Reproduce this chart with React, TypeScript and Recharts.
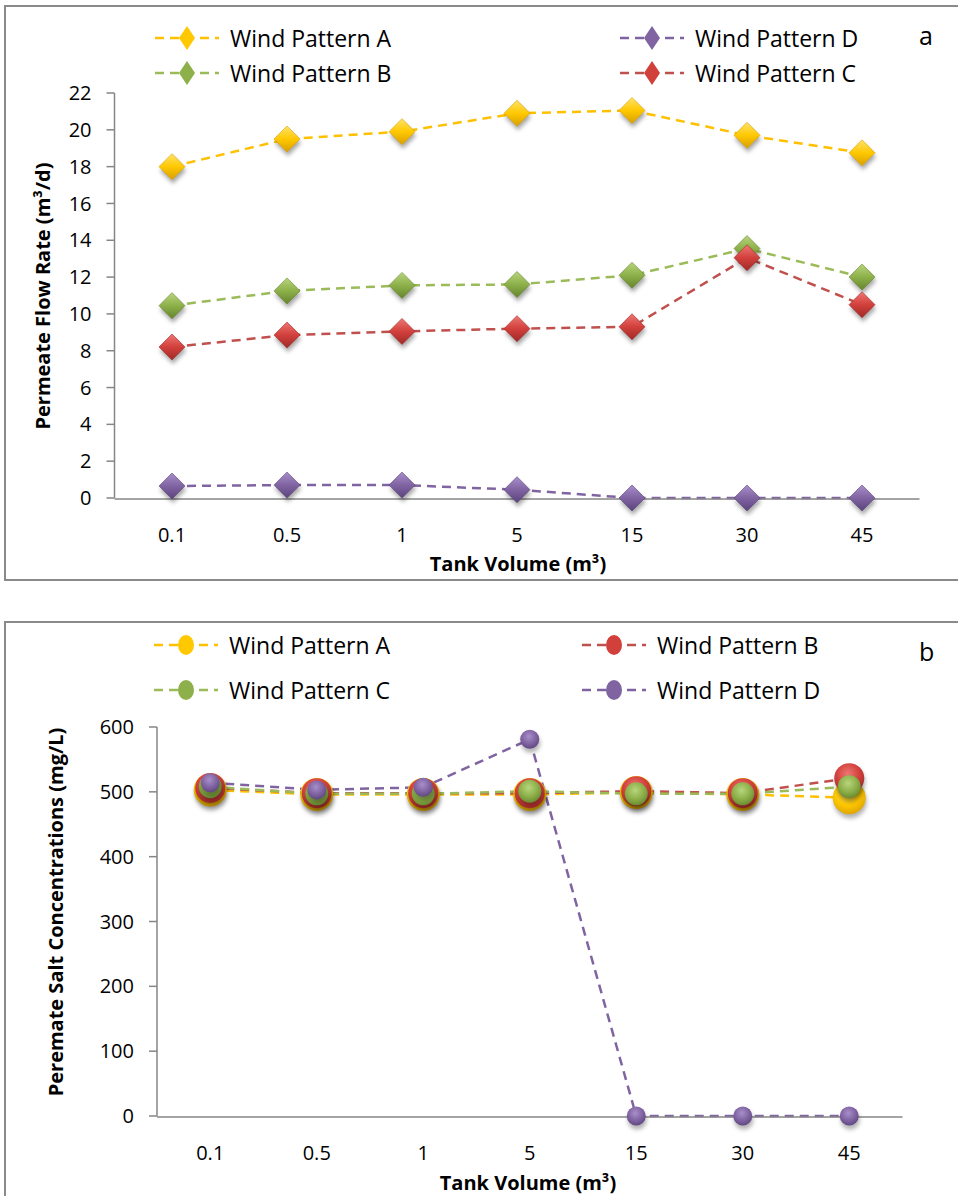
import React from "react";
import { LineChart, Line, XAxis, YAxis } from "recharts";

// tank volumes (m³) — shared category labels
const volumes = ["0.1", "0.5", "1", "5", "15", "30", "45"];

// (a) permeate flow rate, m³/d
const flowA = [18.0, 19.5, 19.9, 20.9, 21.05, 19.7, 18.75];
const flowB = [10.45, 11.25, 11.55, 11.6, 12.1, 13.55, 12.0];
const flowC = [8.2, 8.85, 9.05, 9.2, 9.3, 13.05, 10.5];
const flowD = [0.65, 0.7, 0.7, 0.45, 0, 0, 0];

// (b) permeate salt concentration, mg/L
const saltA = [503, 496, 496, 496, 499, 496, 491];
const saltB = [506, 498, 498, 498, 501, 498, 521];
const saltC = [508, 497, 497, 501, 497, 497, 508];
const saltD = [514, 503, 507, 581, 0, 0, 0];

const flowTicks = [0, 2, 4, 6, 8, 10, 12, 14, 16, 18, 20, 22];
const saltTicks = [0, 100, 200, 300, 400, 500, 600];

const SANS = "'Open Sans', 'Noto Sans', sans-serif";
const AXIS = "#868686";

const centers = volumes.map((_, i) => i + 0.5);
const bounds = volumes.map((_, i) => i).concat(volumes.length);

const flowRows = volumes.map((v, i) => ({
  pos: i + 0.5, label: v, A: flowA[i], B: flowB[i], C: flowC[i], D: flowD[i],
}));
const saltRows = volumes.map((v, i) => ({
  pos: i + 0.5, label: v, A: saltA[i], B: saltB[i], C: saltC[i], D: saltD[i],
}));

const pal = {
  A: { line: "#FFC000", light: "#FFE36A", base: "#FFC800", dark: "#D9A000" },
  B: { line: "#9BBB59", light: "#B8D57C", base: "#8DB04A", dark: "#65852C" },
  C: { line: "#C0504D", light: "#EE7773", base: "#D2403C", dark: "#A02A27" },
  D: { line: "#8064A2", light: "#A88ECB", base: "#8064A2", dark: "#5B437C" },
};
// in chart b the red/green are swapped between B and C
const palB = { A: pal.A, B: pal.C, C: pal.B, D: pal.D };

function Grads({ p, prefix, radial }: any) {
  return (
    <defs>
      <filter id={prefix + "blur"} x="-50%" y="-50%" width="200%" height="200%">
        <feGaussianBlur stdDeviation="2" />
      </filter>
      {Object.keys(p).map((k) =>
        radial ? (
          <radialGradient key={k} id={prefix + k} cx="0.45" cy="0.35" r="0.7">
            <stop offset="0" stopColor={p[k].light} />
            <stop offset="0.55" stopColor={p[k].base} />
            <stop offset="1" stopColor={p[k].dark} />
          </radialGradient>
        ) : (
          <linearGradient key={k} id={prefix + k} x1="0" y1="0" x2="0" y2="1">
            <stop offset="0" stopColor={p[k].light} />
            <stop offset="0.5" stopColor={p[k].base} />
            <stop offset="1" stopColor={p[k].dark} />
          </linearGradient>
        )
      )}
    </defs>
  );
}

const diamondPts = (x: number, y: number, rx: number, ry: number) =>
  `${x},${y - ry} ${x + rx},${y} ${x},${y + ry} ${x - rx},${y}`;

function diamondDot(k: string) {
  return (p: any) => {
    if (p.cx == null || p.cy == null) return <g key={p.index} />;
    return (
      <g key={k + p.index}>
        <polygon points={diamondPts(p.cx + 1, p.cy + 4, 13, 13)} fill="rgba(0,0,0,0.35)" filter="url(#dablur)" />
        <polygon points={diamondPts(p.cx, p.cy, 13, 13)} fill={`url(#da${k})`} stroke={pal[k as keyof typeof pal].dark} strokeWidth={0.6} />
      </g>
    );
  };
}

const circleSize: Record<string, number> = { A: 16.5, B: 15, C: 11.5, D: 9.5 };

function circleDot(k: string) {
  return (p: any) => {
    if (p.cx == null || p.cy == null) return <g key={p.index} />;
    const r = circleSize[k];
    return (
      <g key={k + p.index}>
        <circle cx={p.cx + 1} cy={p.cy + 4} r={r} fill="rgba(0,0,0,0.3)" filter="url(#dbblur)" />
        <circle cx={p.cx} cy={p.cy} r={r} fill={`url(#db${k})`} />
      </g>
    );
  };
}

function LegendMark({ color, fill, diamond }: any) {
  return (
    <svg width={64} height={28} style={{ display: "block" }}>
      <line x1={0} y1={14} x2={64} y2={14} stroke={color} strokeWidth={2.5} strokeDasharray="9 6" />
      {diamond ? (
        <polygon points={diamondPts(32, 14, 8, 12)} fill={fill} />
      ) : (
        <ellipse cx={32} cy={14} rx={8} ry={10} fill={fill} />
      )}
    </svg>
  );
}

function LegendItem({ left, top, label, color, fill, diamond }: any) {
  return (
    <div style={{ position: "absolute", left, top, display: "flex", alignItems: "center", height: 28 }}>
      <LegendMark color={color} fill={fill} diamond={diamond} />
      <span style={{ marginLeft: 11, fontFamily: SANS, fontSize: 23, color: "#000", whiteSpace: "nowrap" }}>{label}</span>
    </div>
  );
}

const tickStyle = { fill: "#000", fontSize: 20, fontFamily: SANS };
const lineStyle = { stroke: AXIS, strokeWidth: 1.5 };

export default function App() {
  const keys = ["A", "B", "C", "D"];
  return (
    <div style={{ position: "absolute", left: 0, top: 0, width: 958, height: 1196, background: "#fff", overflow: "hidden" }}>
      <div style={{ position: "absolute", left: 4, top: 5, width: 1000, height: 572, border: "2px solid #8a8a8a" }} />
      <div style={{ position: "absolute", left: 4, top: 621, width: 1000, height: 620, border: "2px solid #8a8a8a" }} />

      {/* chart a */}
      <div style={{ position: "absolute", left: 0, top: 0 }}>
        <LineChart width={958} height={600} data={flowRows} margin={{ top: 93, right: 38.5, bottom: 100, left: 113.5 }}>
          <Grads p={pal} prefix="da" />
          <XAxis xAxisId="grid" dataKey="pos" type="number" domain={[0, 7]} ticks={bounds} tick={false} height={1}
            tickSize={8} tickLine={lineStyle} axisLine={lineStyle} interval={0} />
          <XAxis dataKey="pos" type="number" domain={[0, 7]} ticks={centers} tickFormatter={(v) => volumes[Math.floor(v)]}
            height={1} tickLine={false} axisLine={false} tickMargin={24} tick={tickStyle} interval={0} />
          <YAxis type="number" domain={[0, 22]} ticks={flowTicks} width={1} interval={0} tickSize={8} tickMargin={15}
            tick={tickStyle} tickLine={lineStyle} axisLine={lineStyle} />
          {["A", "D", "B", "C"].map((k) => (
            <Line key={k} dataKey={k} stroke={pal[k as keyof typeof pal].line} strokeWidth={2.5} strokeDasharray="9 6"
              dot={diamondDot(k)} activeDot={false} isAnimationActive={false} />
          ))}
        </LineChart>
      </div>

      {/* chart b */}
      <div style={{ position: "absolute", left: 0, top: 600 }}>
        <LineChart width={958} height={596} data={saltRows} margin={{ top: 127, right: 55.5, bottom: 78, left: 156 }}>
          <Grads p={palB} prefix="db" radial />
          <XAxis xAxisId="grid" dataKey="pos" type="number" domain={[0, 7]} ticks={bounds} tick={false} height={1}
            tickSize={8} tickLine={lineStyle} axisLine={lineStyle} interval={0} />
          <XAxis dataKey="pos" type="number" domain={[0, 7]} ticks={centers} tickFormatter={(v) => volumes[Math.floor(v)]}
            height={1} tickLine={false} axisLine={false} tickMargin={24} tick={tickStyle} interval={0} />
          <YAxis type="number" domain={[0, 600]} ticks={saltTicks} width={1} interval={0} tickSize={8} tickMargin={15}
            tick={tickStyle} tickLine={lineStyle} axisLine={lineStyle} />
          {keys.map((k) => (
            <Line key={k} dataKey={k} stroke={palB[k as keyof typeof palB].line} strokeWidth={2.5} strokeDasharray="9 6"
              dot={circleDot(k)} activeDot={false} isAnimationActive={false} />
          ))}
        </LineChart>
      </div>

      {/* legends */}
      <LegendItem left={155} top={24} label="Wind Pattern A" color={pal.A.line} fill={pal.A.base} diamond />
      <LegendItem left={620} top={24} label="Wind Pattern D" color={pal.D.line} fill={pal.D.base} diamond />
      <LegendItem left={155} top={59} label="Wind Pattern B" color={pal.B.line} fill={pal.B.base} diamond />
      <LegendItem left={620} top={59} label="Wind Pattern C" color={pal.C.line} fill={pal.C.base} diamond />

      <LegendItem left={154} top={631} label="Wind Pattern A" color={palB.A.line} fill={palB.A.base} />
      <LegendItem left={582} top={631} label="Wind Pattern B" color={palB.B.line} fill={palB.B.base} />
      <LegendItem left={154} top={676} label="Wind Pattern C" color={palB.C.line} fill={palB.C.base} />
      <LegendItem left={582} top={676} label="Wind Pattern D" color={palB.D.line} fill={palB.D.base} />

      <div style={{ position: "absolute", left: 919, top: 18, fontFamily: SANS, fontSize: 25 }}>a</div>
      <div style={{ position: "absolute", left: 919, top: 634, fontFamily: SANS, fontSize: 25 }}>b</div>

      {/* axis titles */}
      <div style={{ position: "absolute", left: 518, top: 563, transform: "translate(-50%, -50%)", fontFamily: SANS, fontWeight: 700, fontSize: 20, whiteSpace: "nowrap" }}>
        Tank Volume (m³)
      </div>
      <div style={{ position: "absolute", left: 528, top: 1182, transform: "translate(-50%, -50%)", fontFamily: SANS, fontWeight: 700, fontSize: 20, whiteSpace: "nowrap" }}>
        Tank Volume (m³)
      </div>
      <div style={{ position: "absolute", left: 42, top: 296, transform: "translate(-50%, -50%) rotate(-90deg)", fontFamily: SANS, fontWeight: 700, fontSize: 20, whiteSpace: "nowrap" }}>
        Permeate Flow Rate (m³/d)
      </div>
      <div style={{ position: "absolute", left: 55, top: 912, transform: "translate(-50%, -50%) rotate(-90deg)", fontFamily: SANS, fontWeight: 700, fontSize: 20, whiteSpace: "nowrap" }}>
        Peremate Salt Concentrations (mg/L)
      </div>
    </div>
  );
}
